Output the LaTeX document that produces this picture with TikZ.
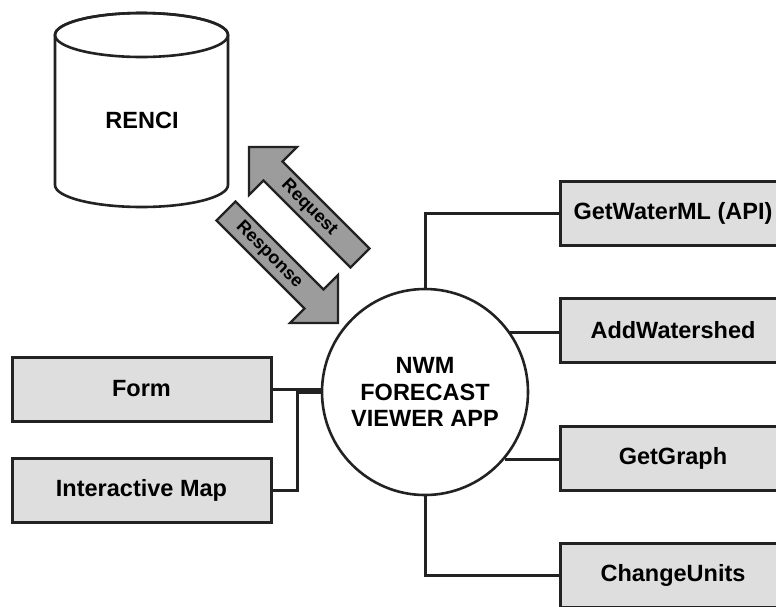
\documentclass[tikz,border=0pt]{standalone}
\usepackage{fontspec}
\setmainfont{Liberation Sans}
\definecolor{boxfill}{HTML}{DEDEDE}
\definecolor{arrowfill}{HTML}{9C9C9C}
\definecolor{edge}{HTML}{222222}
\begin{document}
\begin{tikzpicture}[x=1pt,y=-1pt,
  lbl/.style={font=\fontsize{23.5}{26.5}\selectfont\bfseries},
  funcbox/.style={draw=edge, line width=3pt, fill=boxfill, minimum height=64pt, inner sep=0pt, lbl},
  appcircle/.style={circle, draw=edge, line width=2.6pt, fill=white, minimum size=206pt, inner sep=0pt, align=center, lbl},
  link/.style={draw=edge, line width=3pt},
  fatarrow/.style={draw=edge, line width=2.2pt, fill=arrowfill, line join=miter},
  arrowtext/.style={font=\fontsize{18}{20}\selectfont\bfseries, rotate=-45}
]
\clip (0,0) rectangle (776,606);

% RENCI cylinder
\draw[draw=edge, line width=2.6pt, fill=white]
  (55,35) -- (55,185) arc[start angle=180, end angle=0, x radius=86.5, y radius=22]
  -- (228,35) arc[start angle=0, end angle=-180, x radius=86.5, y radius=22] -- cycle;
\draw[draw=edge, line width=2.6pt] (141.5,35) ellipse[x radius=86.5, y radius=22];
\node[lbl] (renci) at (142,120) {RENCI};

% fat arrows
\draw[fatarrow] (369.5,248.5) -- (282.5,161.5) -- (297,147) -- (249,147) -- (249,195) -- (263.5,180.5) -- (350.5,267.5) -- cycle;
\node[arrowtext] (req) at (309,208) {Request};
\draw[fatarrow] (235.5,201.5) -- (323.5,289.5) -- (338,275) -- (338,323) -- (290,323) -- (304.5,308.5) -- (216.5,220.5) -- cycle;
\node[arrowtext] (resp) at (269,255) {Response};

% app circle
\node[appcircle] (app) at (425,392) {NWM\\FORECAST\\VIEWER APP};

% right boxes
\node[funcbox, minimum width=226pt] (gw) at (673,213) {GetWaterML (API)};
\node[funcbox, minimum width=226pt] (aw) at (673,330) {AddWatershed};
\node[funcbox, minimum width=226pt] (gg) at (673,458.5) {GetGraph};
\node[funcbox, minimum width=226pt] (cu) at (673,575) {ChangeUnits};

% left boxes
\node[funcbox, minimum width=259pt] (form) at (141.5,389) {Form};
\node[funcbox, minimum width=259pt] (map) at (141.5,490.5) {Interactive Map};

% connectors
\draw[link] (app.north) |- (gw.west);
\draw[link] (app.35) -- (app.35 -| aw.west);
\draw[link] (app.-40) -- (app.-40 -| gg.west);
\draw[link] (app.south) |- (cu.west);
\draw[link] (form.east) -- (form.east -| app.west);
\draw[link] (map.east) -- ++(25,0) |- (app.west);
\end{tikzpicture}
\end{document}
